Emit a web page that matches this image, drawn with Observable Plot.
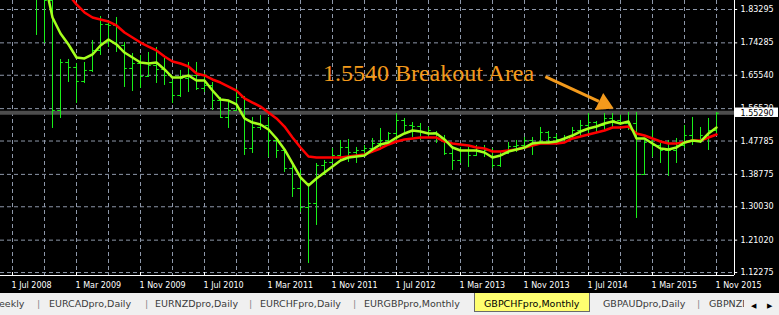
<!DOCTYPE html>
<html><head><meta charset="utf-8">
<script src="https://cdn.jsdelivr.net/npm/d3@7"></script>
<script src="https://cdn.jsdelivr.net/npm/@observablehq/plot@0.6"></script>
<style>
html,body{margin:0;padding:0;background:#000;width:779px;height:315px;overflow:hidden}
#chart svg{display:block}
#tabs{position:relative;width:779px;height:22px;background:#f0f0f0;font-family:"DejaVu Sans",sans-serif;font-size:9.5px;color:#3a3a3a;overflow:hidden}
#tabs span{position:absolute;top:5px;line-height:12px;white-space:nowrap}
#tabs span.sep{color:#8a8a8a}
#tabs span.clipped{width:35px;overflow:hidden}
#tabs .active{position:absolute;left:474px;top:0;width:114px;height:18px;background:#ffff70;border:1px solid #6a6a6a;border-top:none;color:#000}
#tabs .active span{left:9px;top:5px}
#tabs .nav{position:absolute;left:746px;top:0;width:33px;height:22px;background:#f0f0f0;color:#000;font-size:7px}
#tabs .nav span{top:7px}
</style></head>
<body>
<div id="chart"></div>
<div id="tabs">
  <span style="left:-1px">eekly</span>
  <span class="sep" style="left:37px">|</span>
  <span style="left:49px">EURCADpro,Daily</span>
  <span class="sep" style="left:145px">|</span>
  <span style="left:155px">EURNZDpro,Daily</span>
  <span class="sep" style="left:249px">|</span>
  <span style="left:260px">EURCHFpro,Daily</span>
  <span class="sep" style="left:353px">|</span>
  <span style="left:364px">EURGBPpro,Monthly</span>
  <div class="active"><span>GBPCHFpro,Monthly</span></div>
  <span style="left:603px">GBPAUDpro,Daily</span>
  <span class="sep" style="left:697px">|</span>
  <span class="clipped" style="left:709px">GBPNZDpro,Daily</span>
  <div class="nav"><span style="left:5px">&#9664;</span><span style="left:21px">&#9654;</span></div>
</div>
<script>
// Monthly GBPCHF bars, index 0 = Jul 2008 (bars start at index 3 = Oct 2008)
const firstBar = 3;
const open  = [1.9653,1.8708,1.8573,1.5603,1.6899,1.6764,1.6386,1.6683,1.7223,1.7925,1.7898,1.7358,1.6737,1.6872,1.6521,1.6818,1.6710,1.6359,1.6008,1.6467,1.6548,1.6197,1.6278,1.5873,1.5414,1.5603,1.5954,1.4577,1.5144,1.5198,1.4793,1.4523,1.4037,1.3497,1.2983,1.3092,1.4118,1.4199,1.4388,1.4604,1.4469,1.4523,1.4577,1.4712,1.4793,1.4982,1.5333,1.5198,1.5171,1.5009,1.5009,1.4847,1.4442,1.4253,1.4523,1.4388,1.4577,1.4523,1.4118,1.4442,1.4631,1.4658,1.4793,1.4739,1.5009,1.4874,1.4820,1.4847,1.5063,1.5198,1.5279,1.5198,1.5387,1.5333,1.5252,1.5252,1.3875,1.4739,1.4658,1.4523,1.4523,1.4658,1.4928,1.4793,1.4928,1.5063];
const high  = [1.9923,1.8897,1.8681,1.6980,1.6980,1.6872,1.6899,1.7493,1.8141,1.8033,1.8114,1.7439,1.7142,1.7088,1.7169,1.7304,1.7007,1.6413,1.6683,1.6899,1.6899,1.6602,1.6359,1.5954,1.5819,1.6197,1.5981,1.5414,1.5468,1.5414,1.4874,1.4577,1.4199,1.3983,1.3632,1.4172,1.4253,1.4577,1.4793,1.4820,1.4604,1.4658,1.4847,1.5117,1.5009,1.5522,1.5387,1.5279,1.5252,1.5144,1.5036,1.4928,1.4577,1.4604,1.4604,1.4658,1.4658,1.4577,1.4469,1.4739,1.4793,1.4874,1.4874,1.5144,1.5036,1.4955,1.4928,1.5144,1.5333,1.5522,1.5306,1.5522,1.5522,1.5468,1.5549,1.5549,1.4793,1.5063,1.4712,1.4793,1.4847,1.5198,1.5414,1.5144,1.5387,1.5549];
const low   = [1.7628,1.7411,1.5117,1.5387,1.6359,1.5792,1.6332,1.6629,1.7088,1.7304,1.7169,1.6224,1.6116,1.6197,1.6494,1.6332,1.6278,1.5792,1.5954,1.6089,1.6143,1.6089,1.5603,1.5387,1.5117,1.5576,1.4388,1.4442,1.5063,1.4334,1.4307,1.3929,1.3254,1.2849,1.1472,1.2498,1.3848,1.4172,1.4253,1.4199,1.4172,1.4388,1.4442,1.4577,1.4712,1.4739,1.5009,1.4874,1.4793,1.4847,1.4712,1.4388,1.3983,1.4172,1.4064,1.4361,1.4334,1.4037,1.4064,1.4415,1.4469,1.4577,1.4388,1.4712,1.4739,1.4658,1.4712,1.4820,1.4874,1.4982,1.5009,1.5063,1.5144,1.5198,1.5063,1.2687,1.3848,1.4334,1.4172,1.3821,1.4172,1.4577,1.4658,1.4712,1.4523,1.4982];
const close = [1.8708,1.8573,1.5603,1.6899,1.6764,1.6386,1.6683,1.7223,1.7925,1.7898,1.7358,1.6737,1.6872,1.6521,1.6818,1.6710,1.6548,1.6008,1.6467,1.6548,1.6197,1.6278,1.5873,1.5414,1.5603,1.5954,1.4577,1.5144,1.5198,1.4793,1.4523,1.4037,1.3497,1.2983,1.3092,1.4118,1.4199,1.4388,1.4604,1.4469,1.4523,1.4577,1.4712,1.4793,1.4982,1.5333,1.5198,1.5171,1.5009,1.5063,1.4847,1.4442,1.4253,1.4523,1.4388,1.4577,1.4523,1.4118,1.4388,1.4631,1.4658,1.4793,1.4739,1.5009,1.4874,1.4820,1.4847,1.5063,1.5198,1.5279,1.5198,1.5387,1.5333,1.5252,1.5252,1.3875,1.4739,1.4658,1.4523,1.4523,1.4658,1.4928,1.4793,1.4928,1.5063,1.5529];

// Moving averages
const fastMAStart = 4;
const fastMA = [1.9113,1.8113,1.7682,1.7385,1.7034,1.7007,1.7115,1.7357,1.7520,1.7385,
  1.7168,1.7034,1.6898,1.6872,1.6898,1.6710,1.6493,1.6493,1.6548,1.6412,
  1.6412,1.6142,1.5900,1.5872,1.5765,1.5387,1.5278,1.5225,1.5089,1.4847,
  1.4550,1.4172,1.3794,1.3578,1.3767,1.3929,1.4090,1.4252,1.4333,1.4360,
  1.4388,1.4550,1.4685,1.4739,1.4873,1.4982,1.5062,1.5035,1.4982,1.4982,
  1.4820,1.4603,1.4523,1.4523,1.4523,1.4469,1.4333,1.4388,1.4495,1.4550,
  1.4603,1.4712,1.4739,1.4739,1.4765,1.4847,1.4927,1.5035,1.5117,1.5170,
  1.5252,1.5305,1.5252,1.5305,1.4847,1.4847,1.4712,1.4577,1.4550,1.4603,
  1.4739,1.4793,1.4765,1.4982,1.5143];
const slowMAStart = 6;
const slowMA = [1.9005,1.8735,1.8465,1.8249,1.8113,1.8060,1.8005,1.7898,
  1.7708,1.7573,1.7438,1.7330,1.7223,1.7060,1.6925,1.6872,1.6790,1.6602,
  1.6548,1.6440,1.6358,1.6250,1.6142,1.5927,1.5818,1.5710,1.5548,1.5387,
  1.5170,1.4873,1.4603,1.4360,1.4333,1.4333,1.4333,1.4333,1.4360,1.4388,
  1.4415,1.4495,1.4577,1.4685,1.4765,1.4820,1.4847,1.4873,1.4873,1.4873,
  1.4765,1.4712,1.4685,1.4658,1.4603,1.4577,1.4495,1.4495,1.4523,1.4550,
  1.4603,1.4658,1.4712,1.4712,1.4712,1.4739,1.4847,1.4900,1.4955,1.5008,
  1.5062,1.5143,1.5143,1.5170,1.4982,1.4927,1.4847,1.4765,1.4712,1.4712,
  1.4739,1.4793,1.4793,1.4873,1.4955];

const xLabels = ["1 Jul 2008","1 Mar 2009","1 Nov 2009","1 Jul 2010","1 Mar 2011","1 Nov 2011","1 Jul 2012","1 Mar 2013","1 Nov 2013","1 Jul 2014","1 Mar 2015","1 Nov 2015"];
const xLabelIdx = [0,8,16,24,32,40,48,56,64,72,80,88];
const xGridIdx = [0,4,8,12,16,20,24,28,32,36,40,44,48,52,56,60,64,68,72,76,80,84,88];
const yTicks = [1.83295,1.74285,1.65540,1.56530,1.47785,1.38775,1.30030,1.21020,1.12275];
const bidPrice = 1.55290;
const breakoutLevel = 1.5540;
const annotationText = "1.5540 Breakout Area";
const annotationPos = {i: 38.8, price: 1.6620};
const arrowFrom = {i: 66.6, price: 1.6520};
const arrowTo = {i: 73.3, price: 1.5846};
const arrowHead = {i: 73.93, price: 1.5783};
const xDomain = [-1.5, 90.25];
const yDomain = [1.11475, 1.85725];

const bars = open.map((o, k) => ({i: firstBar + k, open: o, high: high[k], low: low[k], close: close[k]}));
const fastData = fastMA.map((v, k) => ({i: fastMAStart + k, v}));
const slowData = slowMA.map((v, k) => ({i: slowMAStart + k, v}));
const xTicks = xLabelIdx.map((i, k) => ({i, label: xLabels[k]}));
// y labels hidden behind the bid-price box are left out of the text layer's overlap
const yLabelTicks = yTicks;

const gridColor = "#8d97a9";
const barColor = "#19f019";
const orange = "#f39a1c";
const fmt = d3.format(".5f");
const font = "DejaVu Sans";

const chart = Plot.plot({
  width: 779, height: 293,
  marginLeft: 0, marginRight: 45, marginTop: 0, marginBottom: 18,
  style: {background: "#000", color: "#fff", fontFamily: font, fontSize: "8px"},
  x: {domain: xDomain, axis: null},
  y: {domain: yDomain, axis: null},
  marks: [
    Plot.ruleY(yTicks, {stroke: gridColor, strokeDasharray: "4,3"}),
    Plot.ruleX(xGridIdx, {stroke: gridColor, strokeDasharray: "4,3"}),
    Plot.ruleY([bidPrice], {stroke: barColor}),
    Plot.ruleY([breakoutLevel], {stroke: "#4d4d4d", strokeWidth: 4}),
    Plot.ruleX(bars, {x: "i", y1: "low", y2: "high", stroke: barColor, clip: true}),
    Plot.ruleY(bars, {y: "open", x1: d => d.i - 0.35, x2: d => d.i, stroke: barColor, clip: true}),
    Plot.ruleY(bars, {y: "close", x1: d => d.i, x2: d => d.i + 0.35, stroke: barColor, clip: true}),
    Plot.line(slowData, {x: "i", y: "v", stroke: "#ff0000", strokeWidth: 2.5, clip: true}),
    Plot.line(fastData, {x: "i", y: "v", stroke: "#a5ff1e", strokeWidth: 2.5, clip: true}),
    Plot.text([annotationText], {x: annotationPos.i, y: annotationPos.price, text: d => d, fill: orange, fontSize: 24, fontFamily: "Liberation Serif", textAnchor: "start"}),
    Plot.link([0], {x1: arrowFrom.i, y1: arrowFrom.price, x2: arrowTo.i, y2: arrowTo.price, stroke: orange, strokeWidth: 3}),
    Plot.dot([0], {x: arrowHead.i, y: arrowHead.price, symbol: "triangle", r: 7, fill: orange, stroke: "none", rotate: 116}),
    Plot.ruleX([xDomain[1]], {stroke: "#fff"}),
    Plot.ruleY([yDomain[0]], {stroke: "#fff"}),
    Plot.ruleY(yTicks, {x1: xDomain[1], x2: xDomain[1] + 0.4, stroke: "#fff"}),
    Plot.text(yLabelTicks, {x: xDomain[1], y: d => d, text: d => fmt(d), dx: 6, textAnchor: "start", fill: "#fff"}),
    Plot.ruleX(xTicks, {x: "i", y1: yDomain[0], y2: yDomain[0] + 0.0081, stroke: "#fff"}),
    Plot.text(xTicks, {x: "i", y: yDomain[0], text: "label", dy: 9.5, dx: -1, textAnchor: "start", fill: "#fff"}),
    Plot.rect([bidPrice], {x1: xDomain[1] + 0.125, x2: xDomain[1] + 5.5, y1: d => d - 0.0115, y2: d => d + 0.014, fill: "#fff"}),
    Plot.text([bidPrice], {x: xDomain[1], y: d => d, text: d => fmt(d), dx: 6, textAnchor: "start", fill: "#000"})
  ]
});
document.getElementById("chart").appendChild(chart);
</script>
</body></html>
